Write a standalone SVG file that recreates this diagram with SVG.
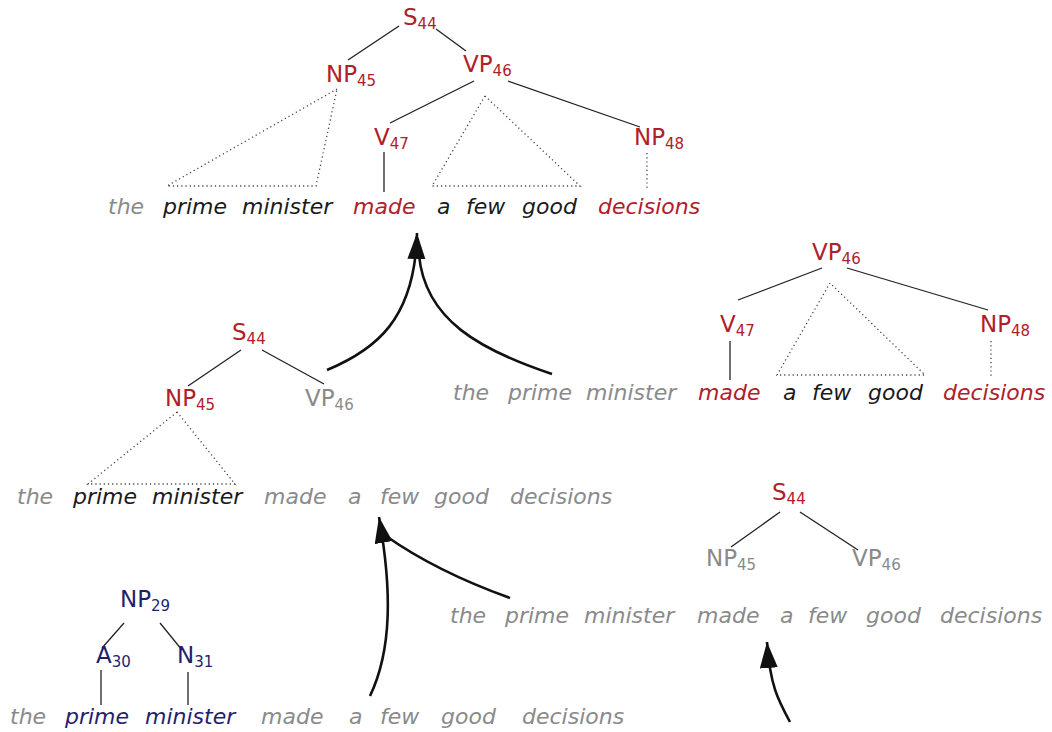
<svg xmlns="http://www.w3.org/2000/svg" width="1052" height="732" viewBox="0 0 1052 732">
<style>
  text { font-family: "DejaVu Sans", "Liberation Sans", sans-serif; }
  .w { font-size: 22px; font-style: italic; }
  .lab { font-size: 23px; }
  .sub { font-size: 15px; }
  .red { fill: #b0202a; }
  .blue { fill: #1f1f6e; }
  .gray { fill: #8a8a8a; }
  .blk { fill: #1a1a1a; }
  .edge { stroke: #222; stroke-width: 1.3; fill: none; }
  .dot { stroke: #444; stroke-width: 1.3; stroke-dasharray: 1.2 3; fill: none; }
  .arc { stroke: #111; stroke-width: 2.6; fill: none; }
</style>
<defs>
  <marker id="head" markerUnits="userSpaceOnUse" markerWidth="30" markerHeight="20" refX="26" refY="9" orient="auto">
    <path d="M0,0 L26,9 L0,18 z" fill="#111"/>
  </marker>
</defs>

<!-- full analysis: S44 over the whole sentence -->
<g id="tree-top">
  <g class="edges">
    <line class="edge" x1="399" y1="26" x2="348" y2="60"/>
    <line class="edge" x1="436" y1="29" x2="466" y2="51"/>
    <line class="edge" x1="474" y1="81" x2="390" y2="123"/>
    <line class="edge" x1="508" y1="81" x2="640" y2="127"/>
    <line class="edge" x1="384" y1="152" x2="384" y2="192"/>
    <polyline class="dot" points="337,89 167,186 316,186 337,89"/>
    <polyline class="dot" points="485,96 432,186 580,186 485,96"/>
    <line class="dot" x1="647" y1="153" x2="647" y2="190"/>
  </g>
  <g id="top-S44"><text class="lab red" x="403" y="25">S<tspan class="sub" dy="4">44</tspan></text></g>
  <g id="top-NP45"><text class="lab red" x="326" y="82">NP<tspan class="sub" dy="4">45</tspan></text></g>
  <g id="top-VP46"><text class="lab red" x="463" y="72">VP<tspan class="sub" dy="4">46</tspan></text></g>
  <g id="top-V47"><text class="lab red" x="374" y="145">V<tspan class="sub" dy="4">47</tspan></text></g>
  <g id="top-NP48"><text class="lab red" x="634" y="145">NP<tspan class="sub" dy="4">48</tspan></text></g>
  <g id="top-words">
    <text class="w gray" x="108" y="214">the</text>
    <text class="w blk" x="163" y="214">prime</text>
    <text class="w blk" x="242" y="214">minister</text>
    <text class="w red" x="353" y="214">made</text>
    <text class="w blk" x="437" y="214">a</text>
    <text class="w blk" x="466" y="214">few</text>
    <text class="w blk" x="522" y="214">good</text>
    <text class="w red" x="598" y="214">decisions</text>
  </g>
</g>

<!-- S44 with NP45 filled in, VP46 still open -->
<g id="tree-mid-left">
  <g class="edges">
    <line class="edge" x1="241" y1="350" x2="188" y2="386"/>
    <line class="edge" x1="262" y1="350" x2="324" y2="384"/>
    <polyline class="dot" points="177,412 88,484 235,484 177,412"/>
  </g>
  <g id="ml-S44"><text class="lab red" x="232" y="340">S<tspan class="sub" dy="4">44</tspan></text></g>
  <g id="ml-NP45"><text class="lab red" x="165" y="406">NP<tspan class="sub" dy="4">45</tspan></text></g>
  <g id="ml-VP46"><text class="lab gray" x="305" y="406">VP<tspan class="sub" dy="4">46</tspan></text></g>
  <g id="ml-words">
    <text class="w gray" x="17" y="504">the</text>
    <text class="w blk" x="73" y="504">prime</text>
    <text class="w blk" x="152" y="504">minister</text>
    <text class="w gray" x="264" y="504">made</text>
    <text class="w gray" x="348" y="504">a</text>
    <text class="w gray" x="380" y="504">few</text>
    <text class="w gray" x="434" y="504">good</text>
    <text class="w gray" x="510" y="504">decisions</text>
  </g>
</g>

<!-- VP46 with its own subtree -->
<g id="tree-mid-right">
  <g class="edges">
    <line class="edge" x1="822" y1="268" x2="738" y2="300"/>
    <line class="edge" x1="847" y1="268" x2="988" y2="310"/>
    <line class="edge" x1="730" y1="341" x2="730" y2="380"/>
    <polyline class="dot" points="830,283 777,375 925,375 830,283"/>
    <line class="dot" x1="991" y1="341" x2="991" y2="376"/>
  </g>
  <g id="mr-VP46"><text class="lab red" x="812" y="260">VP<tspan class="sub" dy="4">46</tspan></text></g>
  <g id="mr-V47"><text class="lab red" x="720" y="332">V<tspan class="sub" dy="4">47</tspan></text></g>
  <g id="mr-NP48"><text class="lab red" x="980" y="332">NP<tspan class="sub" dy="4">48</tspan></text></g>
  <g id="mr-words">
    <text class="w gray" x="453" y="400">the</text>
    <text class="w gray" x="508" y="400">prime</text>
    <text class="w gray" x="586" y="400">minister</text>
    <text class="w red" x="698" y="400">made</text>
    <text class="w blk" x="783" y="400">a</text>
    <text class="w blk" x="812" y="400">few</text>
    <text class="w blk" x="868" y="400">good</text>
    <text class="w red" x="943" y="400">decisions</text>
  </g>
</g>

<!-- bare S44 rule -->
<g id="tree-s44">
  <g class="edges">
    <line class="edge" x1="780" y1="512" x2="731" y2="547"/>
    <line class="edge" x1="800" y1="512" x2="858" y2="550"/>
  </g>
  <g id="r-S44"><text class="lab red" x="772" y="500">S<tspan class="sub" dy="4">44</tspan></text></g>
  <g id="r-NP45"><text class="lab gray" x="706" y="566">NP<tspan class="sub" dy="4">45</tspan></text></g>
  <g id="r-VP46"><text class="lab gray" x="852" y="566">VP<tspan class="sub" dy="4">46</tspan></text></g>
  <g id="r-words">
    <text class="w gray" x="450" y="623">the</text>
    <text class="w gray" x="505" y="623">prime</text>
    <text class="w gray" x="584" y="623">minister</text>
    <text class="w gray" x="697" y="623">made</text>
    <text class="w gray" x="780" y="623">a</text>
    <text class="w gray" x="808" y="623">few</text>
    <text class="w gray" x="866" y="623">good</text>
    <text class="w gray" x="940" y="623">decisions</text>
  </g>
</g>

<!-- NP29 over "prime minister" -->
<g id="tree-np29">
  <g class="edges">
    <line class="edge" x1="124" y1="623" x2="102" y2="648"/>
    <line class="edge" x1="160" y1="623" x2="182" y2="650"/>
    <line class="edge" x1="101" y1="670" x2="101" y2="705"/>
    <line class="edge" x1="188" y1="672" x2="188" y2="705"/>
  </g>
  <g id="b-NP29"><text class="lab blue" x="120" y="607">NP<tspan class="sub" dy="4">29</tspan></text></g>
  <g id="b-A30"><text class="lab blue" x="96" y="663">A<tspan class="sub" dy="4">30</tspan></text></g>
  <g id="b-N31"><text class="lab blue" x="177" y="663">N<tspan class="sub" dy="4">31</tspan></text></g>
  <g id="b-words">
    <text class="w gray" x="10" y="724">the</text>
    <text class="w blue" x="65" y="724">prime</text>
    <text class="w blue" x="145" y="724">minister</text>
    <text class="w gray" x="261" y="724">made</text>
    <text class="w gray" x="349" y="724">a</text>
    <text class="w gray" x="380" y="724">few</text>
    <text class="w gray" x="441" y="724">good</text>
    <text class="w gray" x="522" y="724">decisions</text>
  </g>
</g>

<!-- combination arrows -->
<g id="connectors">
  <path class="arc" d="M327,370 C375,350 415,320 417,233" marker-end="url(#head)"/>
  <path class="arc" d="M552,374 C480,350 425,320 419,255"/>
  <path class="arc" d="M370,696 C392,650 392,590 379,517" marker-end="url(#head)"/>
  <path class="arc" d="M510,598 C460,580 420,560 386,536"/>
  <path class="arc" d="M790,722 C778,700 770,685 767,642" marker-end="url(#head)"/>
</g>
</svg>
